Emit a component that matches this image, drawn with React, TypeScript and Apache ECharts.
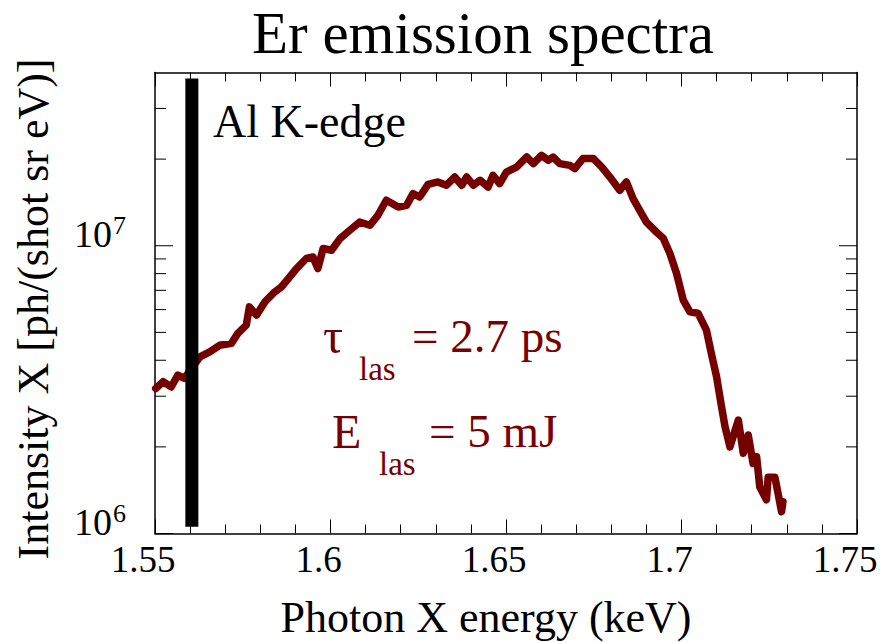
import React, { useEffect, useRef } from "react";
import * as echarts from "echarts";

// Photon energy (keV)
const energies = [
  1.5502, 1.5523, 1.5546, 1.5565, 1.5584, 1.5605, 1.5628, 1.5656, 1.5684, 1.5718,
  1.5736, 1.576, 1.5769, 1.5789, 1.5813, 1.5841, 1.586, 1.5884, 1.5903, 1.5931,
  1.595, 1.5964, 1.5979, 1.6003, 1.6027, 1.6055, 1.6083, 1.6112, 1.6135, 1.6159,
  1.6193, 1.6217, 1.6235, 1.6254, 1.6278, 1.6306, 1.633, 1.6354, 1.6374, 1.6388,
  1.6407, 1.6426, 1.6449, 1.6463, 1.6482, 1.6501, 1.653, 1.6559, 1.6578, 1.6601,
  1.662, 1.6634, 1.6653, 1.6682, 1.6696, 1.6719, 1.6749, 1.6773, 1.6796, 1.6824,
  1.6843, 1.6862, 1.6881, 1.69, 1.6929, 1.6948, 1.6967, 1.6986, 1.7005, 1.7024,
  1.7047, 1.7071, 1.7085, 1.71, 1.7114, 1.7124, 1.7138, 1.7162, 1.7176, 1.719,
  1.7204, 1.7214, 1.7223, 1.7242, 1.7247, 1.7266, 1.7275, 1.7285, 1.7289,
];

// Intensity X [ph/(shot sr eV)]
const intensities = [
  3.19e6, 3.37e6, 3.23e6, 3.55e6, 3.46e6, 3.76e6, 4.11e6, 4.28e6, 4.51e6, 4.58e6,
  4.96e6, 5.3e6, 6.13e6, 5.74e6, 6.38e6, 6.91e6, 7.19e6, 7.79e6, 8.33e6, 9.03e6,
  9.14e6, 8.33e6, 9.78e6, 9.65e6, 1.059e7, 1.132e7, 1.209e7, 1.178e7, 1.276e7, 1.439e7,
  1.364e7, 1.382e7, 1.518e7, 1.477e7, 1.635e7, 1.666e7, 1.623e7, 1.733e7, 1.623e7, 1.733e7,
  1.623e7, 1.689e7, 1.6e7, 1.757e7, 1.644e7, 1.804e7, 1.877e7, 2.034e7, 1.929e7, 2.062e7,
  1.981e7, 2.034e7, 1.929e7, 1.903e7, 1.854e7, 2.008e7, 2.008e7, 1.877e7, 1.733e7, 1.558e7,
  1.666e7, 1.458e7, 1.328e7, 1.209e7, 1.114e7, 1.062e7, 9.4e6, 8.01e6, 6.47e6, 5.89e6,
  5.83e6, 5.09e6, 4.22e6, 3.5e6, 2.76e6, 2.35e6, 2.0e6, 2.48e6, 1.9e6, 2.2e6,
  1.75e6, 1.85e6, 1.45e6, 1.31e6, 1.57e6, 1.57e6, 1.38e6, 1.19e6, 1.29e6,
];

// Al K-edge marker
const edgeEnergy = [1.5605, 1.5605];
const edgeIntensity = [1.056e6, 3.81e7];

// Axes
const xMin = 1.55;
const xMax = 1.75;
const xStep = 0.05;
const xTickLabels = [1.55, 1.6, 1.65, 1.7, 1.75];
const yMin = 1e6;
const yMax = 4e7;
const yMajorTicks = [1e6, 1e7];
const yMinorTicks = [2e6, 3e6, 4e6, 5e6, 6e6, 7e6, 8e6, 9e6, 2e7, 3e7];

const titleText = "Er emission spectra";
const xName = "Photon X energy (keV)";
const yName = "Intensity X [ph/(shot sr eV)]";

const fnt = (size: number) => `${size}px 'Liberation Serif'`;
const RED = "#750000";
const TXT_RED = "#780000";

export default function App() {
  const ref = useRef<HTMLDivElement>(null);

  useEffect(() => {
    if (!ref.current) return;
    const chart = echarts.init(ref.current, undefined, { renderer: "svg" });

    const curve = energies.map((e, i) => [e, intensities[i]]);
    const edge = edgeEnergy.map((e, i) => [e, edgeIntensity[i]]);
    const yTicks = [
      ...yMajorTicks.map((v) => [xMin, v, 1]),
      ...yMinorTicks.map((v) => [xMin, v, 0]),
    ];
    const xLabels = xTickLabels.map((v) => [v, yMin]);

    const xAxisCommon = {
      type: "value",
      min: xMin,
      max: xMax,
      interval: xStep,
      splitLine: { show: false },
      axisLabel: { show: false },
      axisLine: { show: true, onZero: false, lineStyle: { color: "#000", width: 1.5 } },
      axisTick: { show: true, inside: true, length: 14, lineStyle: { color: "#000", width: 1 } },
      minorTick: { show: true, splitNumber: 5, length: 9, lineStyle: { color: "#000", width: 1 } },
      minorSplitLine: { show: false },
    };

    const yAxisCommon = {
      type: "log",
      logBase: 10,
      min: yMin,
      max: yMax,
      splitLine: { show: false },
      axisLine: { show: true, onZero: false, lineStyle: { color: "#000", width: 1.5 } },
      axisTick: { show: false },
      axisLabel: { show: false },
    };

    const txt = (text: string, x: number, y: number, size: number, fill: string, align = "left", rotation = 0) => ({
      type: "text",
      x,
      y,
      rotation,
      style: { text, fill, font: fnt(size), align, verticalAlign: "middle" },
    });

    const option: any = {
      animation: false,
      backgroundColor: "#fff",
      grid: {
        left: 155,
        right: 23,
        top: 72.5,
        bottom: 108.5,
        containLabel: false,
        outerBoundsMode: "none",
      },
      xAxis: [
        { ...xAxisCommon, position: "bottom" },
        { ...xAxisCommon, position: "top" },
      ],
      yAxis: [
        { ...yAxisCommon, position: "left" },
        { ...yAxisCommon, position: "right" },
      ],
      series: [
        {
          type: "line",
          data: curve,
          showSymbol: false,
          symbol: "none",
          lineStyle: { color: RED, width: 7.5, cap: "round", join: "round" },
          z: 2,
        },
        {
          type: "line",
          data: edge,
          showSymbol: false,
          symbol: "none",
          lineStyle: { color: "#000", width: 13, cap: "butt" },
          z: 3,
        },
        {
          type: "custom",
          data: yTicks,
          encode: { x: 0, y: 1 },
          silent: true,
          clip: false,
          z: 4,
          renderItem: (params: any, api: any) => {
            const v = api.value(1);
            const major = api.value(2) === 1;
            const pL = api.coord([xMin, v]);
            const pR = api.coord([xMax, v]);
            const len = major ? 18 : 11;
            const children: any[] = [
              { type: "line", shape: { x1: pL[0], y1: pL[1], x2: pL[0] + len, y2: pL[1] }, style: { stroke: "#000", lineWidth: 1 } },
              { type: "line", shape: { x1: pR[0] - len, y1: pR[1], x2: pR[0], y2: pR[1] }, style: { stroke: "#000", lineWidth: 1 } },
            ];
            if (major) {
              const exp = Math.round(Math.log10(v));
              children.push({
                type: "text",
                x: pL[0] - 43,
                y: pL[1] - 12,
                style: { text: "10", fill: "#000", font: fnt(38), align: "right", verticalAlign: "middle" },
              });
              children.push({
                type: "text",
                x: pL[0] - 42,
                y: pL[1] - 20,
                style: { text: String(exp), fill: "#000", font: fnt(26), align: "left", verticalAlign: "middle" },
              });
            }
            return { type: "group", children };
          },
        },
        {
          type: "custom",
          data: xLabels,
          encode: { x: 0, y: 1 },
          silent: true,
          clip: false,
          z: 4,
          renderItem: (params: any, api: any) => {
            const v = api.value(0);
            const p = api.coord([v, yMin]);
            return {
              type: "text",
              x: p[0] - 12,
              y: p[1] + 26,
              style: { text: String(v), fill: "#000", font: fnt(37), align: "center", verticalAlign: "middle" },
            };
          },
        },
      ],
      graphic: [
        txt(titleText, 483, 33, 59, "#000", "center"),
        txt(xName, 486, 617, 44, "#000", "center"),
        txt(yName, 33, 309, 44, "#000", "center", Math.PI / 2),
        txt("Al K-edge", 213, 121, 46, "#000"),
        txt("τ", 323, 336, 50, TXT_RED),
        txt("las", 359, 369, 33, TXT_RED),
        txt("= 2.7 ps", 412, 336, 47, TXT_RED),
        txt("E", 332, 431, 48, TXT_RED),
        txt("las", 379, 464, 33, TXT_RED),
        txt("= 5 mJ", 429, 431, 47, TXT_RED),
      ],
    };

    chart.setOption(option);
    return () => chart.dispose();
  }, []);

  return (
    <div
      ref={ref}
      style={{ position: "fixed", left: 0, top: 0, width: 880, height: 642, background: "#fff" }}
    />
  );
}
